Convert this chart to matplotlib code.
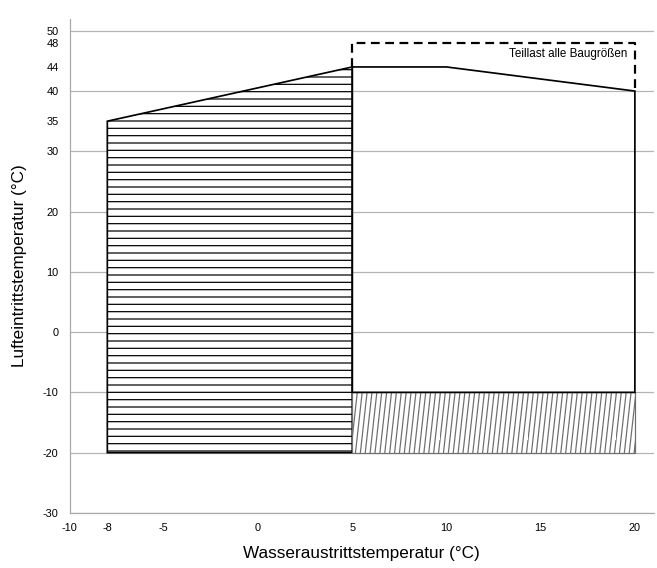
import numpy as np
import matplotlib
matplotlib.use("Agg")
import matplotlib.pyplot as plt
import matplotlib.hatch as mhatch
from matplotlib.path import Path

# Einsatzgrenzen (Wasseraustritt x, Lufteintritt y)
heiz_x = [-8, -8, 5, 5]
heiz_y = [-20, 35, 44, -20]
kuehl_x = [5, 5, 10, 20, 20]
kuehl_y = [-10, 44, 44, 40, -10]
frost_x = [5, 20]
frost_y = [-20, -10]
teillast_x = [5, 5, 20, 20]
teillast_y = [44, 48, 48, 40]
teillast_text = "Teillast alle Baugrößen"

x_ticks = [-10, -8, -5, 0, 5, 10, 15, 20]
y_ticks = [-30, -20, -10, 0, 10, 20, 30, 40, 50]
y_extra = [35, 44, 48]


class SteilHatch(mhatch.HatchPatternBase):
    # steile Schraffur statt '|': Linien leicht nach rechts geneigt
    def __init__(self, hatch, density):
        self.num_lines = int(hatch.count('|') * density)
        self.shift = 2
        self.num_vertices = (self.num_lines + self.shift) * 2

    def set_vertices_and_codes(self, vertices, codes):
        n = self.num_lines
        idx = np.arange(-self.shift, n)
        vertices[0::2, 0] = idx / n
        vertices[0::2, 1] = 0.0
        vertices[1::2, 0] = (idx + self.shift) / n
        vertices[1::2, 1] = 1.0
        codes[0::2] = Path.MOVETO
        codes[1::2] = Path.LINETO


mhatch._hatch_types = [SteilHatch if t is mhatch.VerticalHatch else t
                       for t in mhatch._hatch_types]

plt.rcParams['font.family'] = ['Liberation Sans', 'DejaVu Sans']
plt.rcParams['axes.unicode_minus'] = False
plt.rcParams['hatch.linewidth'] = 1.0

dpi = 88
fig = plt.figure(figsize=(657 / dpi, 568 / dpi), dpi=dpi)
ax = fig.add_axes([0.106, 0.097, 0.889, 0.870])

# Flaechen
ax.fill(heiz_x, heiz_y, facecolor='white', edgecolor='black', hatch='--', lw=1.4, zorder=3)
ax.fill([frost_x[0], frost_x[0], frost_x[1], frost_x[1]],
        [frost_y[0], frost_y[1], frost_y[1], frost_y[0]],
        facecolor='white', edgecolor='#6e6e6e', hatch='|||', lw=1.0, zorder=3)
ax.fill(kuehl_x, kuehl_y, facecolor='none', edgecolor='black', lw=1.4, zorder=4)
ax.plot(teillast_x, teillast_y, color='black', lw=1.8, ls=(0, (4, 2.5)), zorder=4)
ax.text(19.6, 46.1, teillast_text, ha='right', va='center', fontsize=9.5, zorder=5)

ax.set_xlim(-10, 21)
ax.set_ylim(-30, 52)
ax.set_xticks(x_ticks)
ax.set_yticks(y_ticks)
ax.set_yticks(y_extra, labels=[str(v) for v in y_extra], minor=True)
ax.tick_params(which='both', length=0, labelsize=9, colors='black')
ax.tick_params(axis='y', which='both', pad=9)
ax.tick_params(axis='x', pad=8)
ax.grid(axis='y', which='major', color='#b4b4b4', lw=1.0)
ax.set_axisbelow(True)

for s in ['top', 'right']:
    ax.spines[s].set_visible(False)
for s in ['left', 'bottom']:
    ax.spines[s].set_color('#a8a8a8')
    ax.spines[s].set_linewidth(1.0)

ax.set_xlabel('Wasseraustrittstemperatur (°C)', fontsize=14, labelpad=11)
ax.set_ylabel('Lufteintrittstemperatur (°C)', fontsize=14, labelpad=13)

fig.savefig('out.png', dpi=dpi)
